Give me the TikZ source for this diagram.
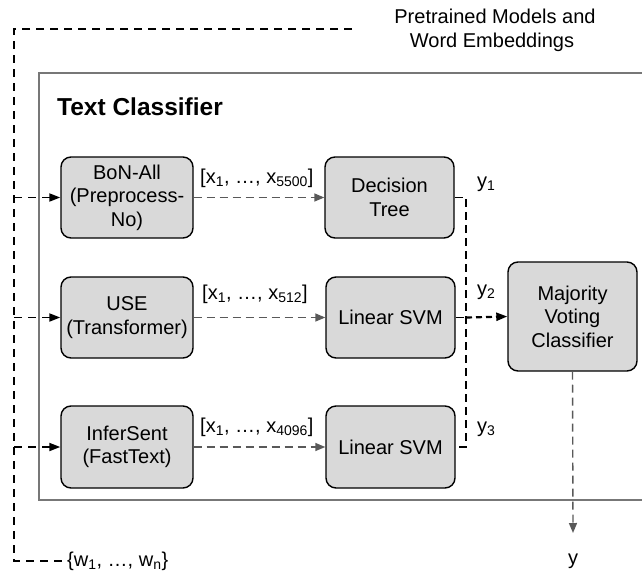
\documentclass[tikz,border=0pt]{standalone}
\usepackage{fontspec}
\setmainfont{Liberation Sans}
\usetikzlibrary{arrows.meta}
\definecolor{boxfill}{HTML}{D9D9D9}
\definecolor{flowgray}{HTML}{595959}
\definecolor{framegray}{HTML}{777777}

\begin{document}
\begin{tikzpicture}[x=1pt,y=-1pt,
  model/.style={draw=black, line width=1.4pt, fill=boxfill, rounded corners=10pt,
    align=center, inner sep=0pt, font=\fontsize{20}{23.5}\selectfont},
  lbl/.style={inner sep=0pt, font=\fontsize{20}{24}\selectfont},
  feed/.style={draw=black, line width=1.8pt, dash pattern=on 8pt off 6pt},
  feedarrow/.style={feed, -{Triangle[length=11pt,width=8pt]}},
  vecarrow/.style={draw=flowgray, line width=1.4pt, dash pattern=on 8pt off 5pt,
    -{Triangle[length=10pt,width=8pt]}},
  votebus/.style={draw=black, line width=1.6pt, dash pattern=on 8pt off 5pt},
]
\useasboundingbox (0,0) rectangle (642,573);

% frame of the text classifier (runs off the right edge)
\draw[framegray, line width=2pt] (643,73) -- (39,73) -- (39,500) -- (643,500);
\node[inner sep=0pt, anchor=base west, font=\fontsize{24.5}{28}\selectfont\bfseries]
  (title) at (57,115) {Text Classifier};

% external resources
\node[lbl, anchor=base] (pretrained) at (495,23) {Pretrained Models and};
\node[lbl, anchor=base] (embeddings) at (492,47) {Word Embeddings};
\node[lbl, anchor=base west] (words) at (67,566)
  {\{w\textsubscript{1}, …, w\textsubscript{n}\}};
\coordinate (src) at (352,29);
\coordinate (busL) at (14,29);

% feature extractors
\node[model, minimum width=132pt, minimum height=81pt] (bon) at (127,197.5)
  {BoN-All\\(Preprocess-\\No)};
\node[model, minimum width=132pt, minimum height=81pt] (use) at (127,317.5)
  {USE\\(Transformer)};
\node[model, minimum width=132pt, minimum height=82pt] (infer) at (127,447)
  {InferSent\\(FastText)};

% classifiers
\node[model, minimum width=129pt, minimum height=81pt] (tree) at (389.5,197.5)
  {Decision\\Tree};
\node[model, minimum width=129pt, minimum height=81pt] (svmA) at (390.5,317.5)
  {Linear SVM};
\node[model, minimum width=129pt, minimum height=82pt] (svmB) at (390.5,447)
  {Linear SVM};

% ensemble
\node[model, minimum width=129pt, minimum height=109pt] (vote) at (572.5,316.5)
  {Majority\\Voting\\Classifier};
\node[lbl, anchor=base] (out) at (573,564) {y};

% input bus on the left
\draw[feed] (src) -- (busL) |- (words.west);
\draw[feedarrow] (14,197.5) -- (bon.west);
\draw[feedarrow] (14,317.5) -- (use.west);
\draw[feedarrow] (14,447) -- (infer.west);

% feature vectors
\draw[vecarrow] (bon.east) -- (tree.west);
\draw[vecarrow] (use.east) -- (svmA.west);
\draw[vecarrow] (infer.east) -- (svmB.west);
\node[lbl, anchor=base west] (v1) at (200,183)
  {[x\textsubscript{1}, …, x\textsubscript{5500}]};
\node[lbl, anchor=base west] (v2) at (202,299)
  {[x\textsubscript{1}, …, x\textsubscript{512}]};
\node[lbl, anchor=base west] (v3) at (200,432)
  {[x\textsubscript{1}, …, x\textsubscript{4096}]};

% predictions collected into the voter
\coordinate (busR) at (466,197.5);
\draw[votebus] (tree.east) -- (busR) |- (svmB.east);
\draw[votebus] (svmA.east) -- (466,317.5);
\draw[draw=black, line width=2.2pt, dash pattern=on 6pt off 4pt,
  -{Triangle[length=11pt,width=8pt]}] (466,317.5) -- (vote.west);
\node[lbl, anchor=base west] (y1) at (477,187) {y\textsubscript{1}};
\node[lbl, anchor=base west] (y2) at (477,295) {y\textsubscript{2}};
\node[lbl, anchor=base west] (y3) at (477,432) {y\textsubscript{3}};

% final label
\draw[vecarrow] (vote.south) -- (573,533);
\end{tikzpicture}
\end{document}
